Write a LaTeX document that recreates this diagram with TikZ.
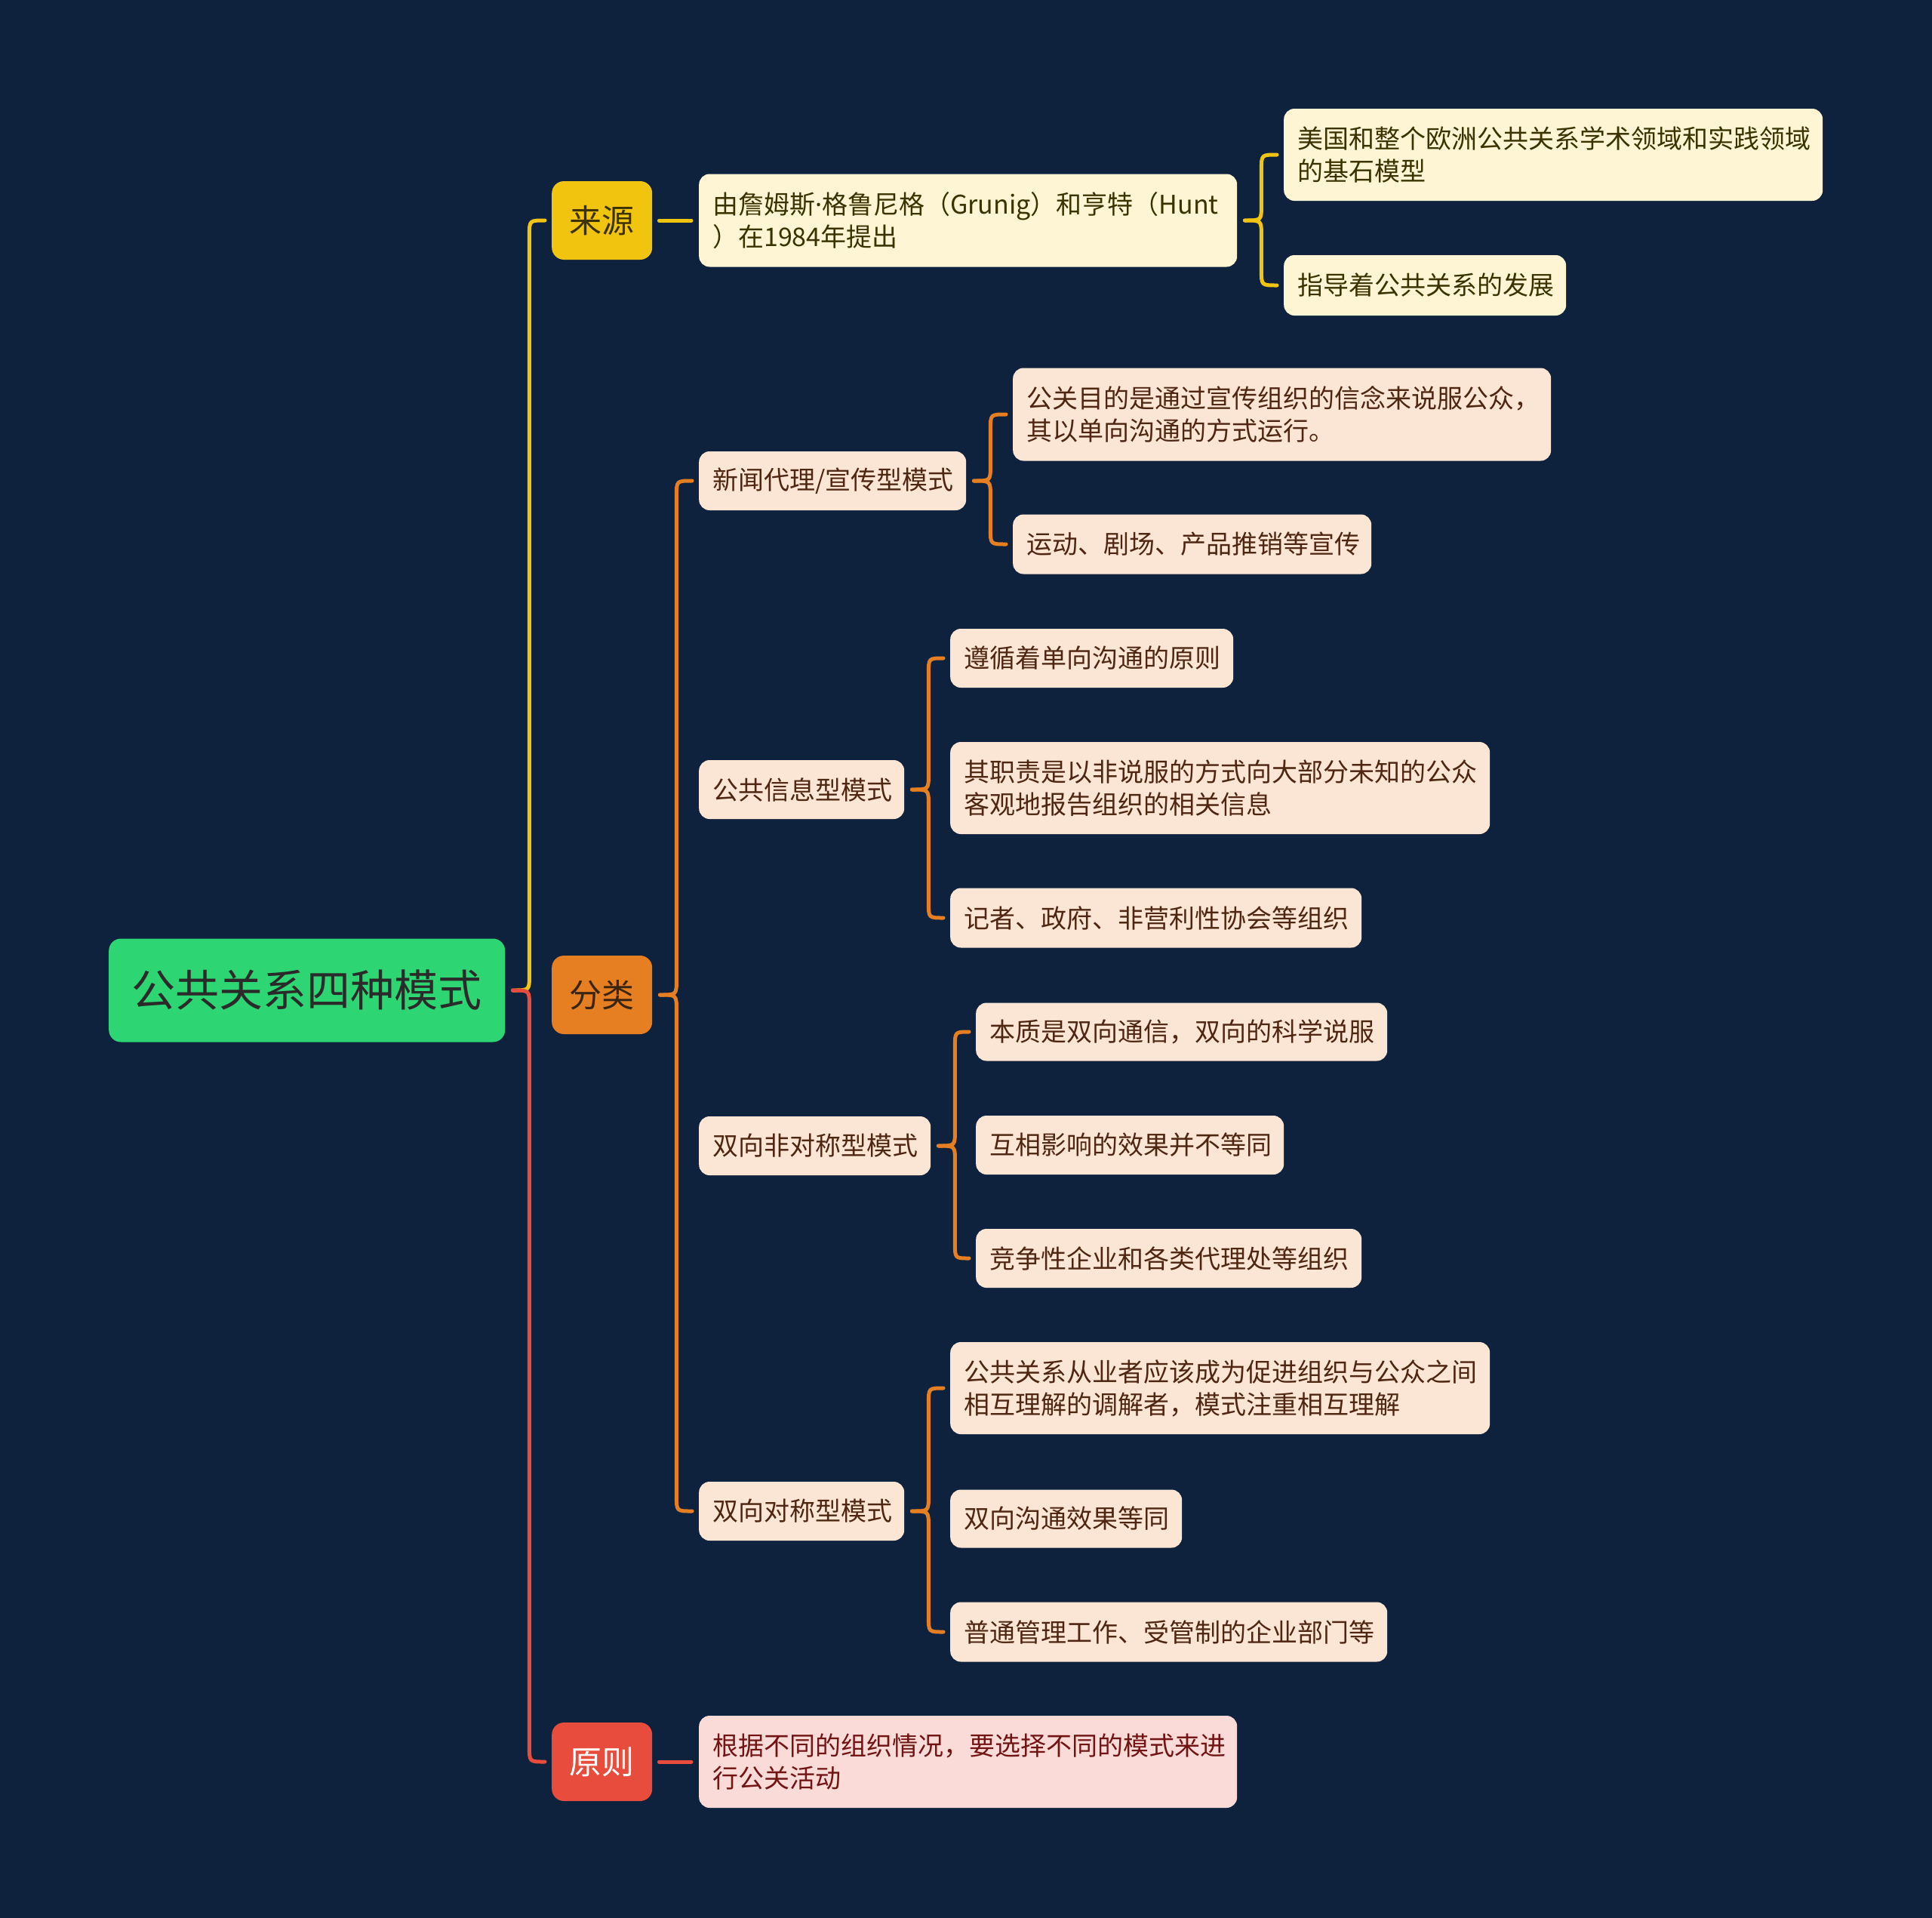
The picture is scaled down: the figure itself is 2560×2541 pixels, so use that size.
\documentclass[tikz,border=0pt]{standalone}
\usepackage{fontspec}
\newfontfamily\cjk{Noto Sans CJK SC}
\newfontfamily\latf{Noto Sans}
\usetikzlibrary{calc}
\definecolor{bg}{HTML}{0E223E}
\definecolor{rootc}{HTML}{2ED573}
\definecolor{roottext}{HTML}{2A2A2A}
\definecolor{otitle}{HTML}{3A2412}
\definecolor{yel}{HTML}{F1C40F}
\definecolor{ora}{HTML}{E67E22}
\definecolor{redc}{HTML}{E74C3C}
\definecolor{ybox}{HTML}{FDF5D3}
\definecolor{obox}{HTML}{FBE6D5}
\definecolor{rbox}{HTML}{FADBD8}
\definecolor{ytext}{HTML}{3B3200}
\definecolor{otext}{HTML}{4F2612}
\definecolor{rtext}{HTML}{731414}
\newcommand\brc[3]{\draw[conn,#3] let \p1=($(#1.east)+(10pt,0pt)$), \p2=($(#2.west)+(-9pt,0pt)$), \n2={20*sign(\y2-\y1)} in (\p1) .. controls ({\x1+22pt},\y1) .. ({\x1+22pt},{\y1+\n2}) -- ({\x1+22pt},{\y2-\n2}) .. controls ({\x1+22pt},\y2) .. (\p2);}
\begin{document}
\begin{tikzpicture}[x=1pt,y=-1pt,
  conn/.style={line width=5pt,line cap=round},
  box/.style={rounded corners=14pt,inner xsep=18pt,inner ysep=0pt,align=left,anchor=west,font=\cjk\fontsize{34}{43}\selectfont},
  ybx/.style={box,fill=ybox,text=ytext},
  obx/.style={box,fill=obox,text=otext},
  rbx/.style={box,fill=rbox,text=rtext},
  lone/.style={rounded corners=16pt,inner sep=0pt,anchor=west,minimum width=133pt,minimum height=104pt,font=\cjk\fontsize{43}{50}\selectfont}]
\fill[bg] (0,0) rectangle (2560,2541);
\useasboundingbox (0,0) rectangle (2560,2541);
% root
\node[rounded corners=16pt,fill=rootc,text=roottext,anchor=west,inner sep=0pt,minimum width=525pt,minimum height=137pt,font=\cjk\fontsize{58}{66}\selectfont] (root) at (144,1312) {公共关系四种模式};
% level 1
\node[lone,fill=yel,text=ytext] (ly) at (731,292) {来源};
\node[lone,fill=ora,text=otitle] (lo) at (731,1318) {分类};
\node[lone,fill=redc,text=white] (lr) at (731,2334) {原则};
% level 2
\node[ybx,text width=677pt,minimum height=123pt] (s1) at (926,292) {由詹姆斯{\latf ·}格鲁尼格（Grunig）和亨特（Hunt\\）在1984年提出};
\node[rbx,text width=677pt,minimum height=122pt] (p1) at (926,2334) {根据不同的组织情况，要选择不同的模式来进\\行公关活动};
\node[obx,text width=318pt,minimum height=78pt] (c1) at (926,637) {新闻代理/宣传型模式};
\node[obx,text width=236pt,minimum height=78pt] (c2) at (926,1046) {公共信息型模式};
\node[obx,text width=271pt,minimum height=78pt] (c3) at (926,1518) {双向非对称型模式};
\node[obx,text width=236pt,minimum height=78pt] (c4) at (926,2002) {双向对称型模式};
% level 3
\node[ybx,text width=678pt,minimum height=122pt] (s11) at (1701,205) {美国和整个欧洲公共关系学术领域和实践领域\\的基石模型};
\node[ybx,text width=338pt,minimum height=80pt] (s12) at (1701,378) {指导着公共关系的发展};
\node[obx,text width=677pt,minimum height=123pt] (c11) at (1342,549) {公关目的是通过宣传组织的信念来说服公众，\\其以单向沟通的方式运行。};
\node[obx,text width=439pt,minimum height=79pt] (c12) at (1342,721) {运动、剧场、产品推销等宣传};
\node[obx,text width=339pt,minimum height=78pt] (c21) at (1259,872) {遵循着单向沟通的原则};
\node[obx,text width=679pt,minimum height=122pt] (c22) at (1259,1044) {其职责是以非说服的方式向大部分未知的公众\\客观地报告组织的相关信息};
\node[obx,text width=509pt,minimum height=79pt] (c23) at (1259,1216) {记者、政府、非营利性协会等组织};
\node[obx,text width=509pt,minimum height=77pt] (c31) at (1293,1367) {本质是双向通信，双向的科学说服};
\node[obx,text width=372pt,minimum height=78pt] (c32) at (1293,1517) {互相影响的效果并不等同};
\node[obx,text width=475pt,minimum height=78pt] (c33) at (1293,1667) {竞争性企业和各类代理处等组织};
\node[obx,text width=679pt,minimum height=122pt] (c41) at (1259,1839) {公共关系从业者应该成为促进组织与公众之间\\相互理解的调解者，模式注重相互理解};
\node[obx,text width=271pt,minimum height=77pt] (c42) at (1259,2012) {双向沟通效果等同};
\node[obx,text width=543pt,minimum height=79pt] (c43) at (1259,2162) {普通管理工作、受管制的企业部门等};
% connectors
\brc{root}{ly}{yel}
\brc{root}{lr}{redc}
\draw[conn,yel] ($(ly.east)+(9pt,0pt)$) -- ($(s1.west)+(-10pt,0pt)$);
\draw[conn,redc] ($(lr.east)+(9pt,0pt)$) -- ($(p1.west)+(-10pt,0pt)$);
\brc{lo}{c1}{ora}
\brc{lo}{c4}{ora}
\brc{s1}{s11}{yel}
\brc{s1}{s12}{yel}
\brc{c1}{c11}{ora}
\brc{c1}{c12}{ora}
\brc{c2}{c21}{ora}
\brc{c2}{c23}{ora}
\brc{c3}{c31}{ora}
\brc{c3}{c33}{ora}
\brc{c4}{c41}{ora}
\brc{c4}{c43}{ora}
\end{tikzpicture}
\end{document}
